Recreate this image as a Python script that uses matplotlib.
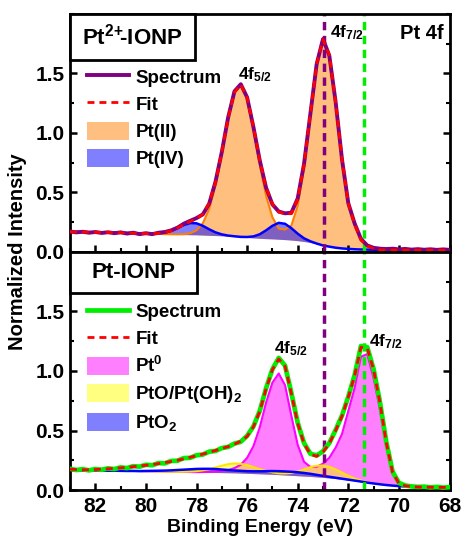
import matplotlib.pyplot as plt
import numpy as np
from matplotlib.patches import Patch, Rectangle
from matplotlib.lines import Line2D
from matplotlib.ticker import MultipleLocator

plt.rcParams['font.family'] = 'Liberation Sans'
plt.rcParams['font.weight'] = 'bold'
plt.rcParams['mathtext.fontset'] = 'custom'
plt.rcParams['mathtext.rm'] = 'Liberation Sans:bold'
plt.rcParams['mathtext.it'] = 'Liberation Sans:bold'
plt.rcParams['mathtext.bf'] = 'Liberation Sans:bold'
plt.rcParams['mathtext.default'] = 'bf'

# binding energy grid (eV), 83 -> 68
energy = [83.0, 82.75, 82.5, 82.25, 82.0, 81.75, 81.5, 81.25,
          81.0, 80.75, 80.5, 80.25, 80.0, 79.75, 79.5, 79.25,
          79.0, 78.75, 78.5, 78.25, 78.0, 77.75, 77.5, 77.25,
          77.0, 76.75, 76.5, 76.25, 76.0, 75.75, 75.5, 75.25,
          75.0, 74.75, 74.5, 74.25, 74.0, 73.75, 73.5, 73.25,
          73.0, 72.75, 72.5, 72.25, 72.0, 71.75, 71.5, 71.25,
          71.0, 70.75, 70.5, 70.25, 70.0, 69.75, 69.5, 69.25,
          69.0, 68.75, 68.5, 68.25, 68.0]

# ---- Pt2+-IONP ----
top_bg = [0.170, 0.169, 0.168, 0.167, 0.166, 0.165, 0.164, 0.163,
          0.162, 0.160, 0.158, 0.156, 0.155, 0.153, 0.152, 0.150,
          0.149, 0.147, 0.146, 0.145, 0.144, 0.142, 0.140, 0.138,
          0.136, 0.133, 0.130, 0.126, 0.122, 0.118, 0.115, 0.112,
          0.110, 0.107, 0.104, 0.100, 0.095, 0.088, 0.080, 0.068,
          0.055, 0.045, 0.036, 0.030, 0.026, 0.023, 0.021, 0.020,
          0.019, 0.018, 0.018, 0.017, 0.017, 0.017, 0.016, 0.016,
          0.016, 0.016, 0.016, 0.015, 0.015]
top_pt2 = [0, 0, 0, 0, 0, 0, 0, 0,
           0, 0, 0, 0, 0, 0, 0, 0,
           0, 0.001, 0.004, 0.013, 0.039, 0.099, 0.22, 0.42,
           0.69, 0.99, 1.21, 1.28, 1.17, 0.92, 0.62, 0.36,
           0.182, 0.09, 0.085, 0.122, 0.293, 0.62, 1.07, 1.51,
           1.73, 1.61, 1.22, 0.75, 0.38, 0.21, 0.08, 0.03,
           0.01, 0, 0, 0, 0, 0, 0, 0,
           0, 0, 0, 0, 0]
top_pt4 = [0, 0, 0, 0, 0, 0, 0, 0,
           0, 0, 0, 0, 0, 0.002, 0.005, 0.013,
           0.03, 0.054, 0.081, 0.098, 0.097, 0.078, 0.051, 0.027,
           0.012, 0.005, 0.002, 0.001, 0.004, 0.013, 0.034, 0.07,
           0.11, 0.138, 0.133, 0.10, 0.059, 0.027, 0.01, 0.003,
           0, 0, 0, 0, 0, 0, 0, 0,
           0, 0, 0, 0, 0, 0, 0, 0,
           0, 0, 0, 0, 0]
top_spec = [0.172, 0.165, 0.170, 0.162, 0.168, 0.160, 0.166, 0.158,
            0.165, 0.155, 0.162, 0.150, 0.158, 0.150, 0.162, 0.168,
            0.182, 0.205, 0.238, 0.262, 0.285, 0.316, 0.405, 0.590,
            0.84, 1.13, 1.35, 1.41, 1.30, 1.05, 0.77, 0.54,
            0.40, 0.34, 0.325, 0.33, 0.45, 0.74, 1.16, 1.58,
            1.79, 1.65, 1.26, 0.78, 0.41, 0.24, 0.11, 0.055,
            0.035, 0.028, 0.025, 0.028, 0.022, 0.026, 0.020, 0.024,
            0.019, 0.023, 0.018, 0.022, 0.018]

# ---- Pt-IONP ----
bot_bg = [0.165, 0.165, 0.164, 0.164, 0.163, 0.163, 0.162, 0.162,
          0.161, 0.160, 0.160, 0.159, 0.158, 0.157, 0.156, 0.155,
          0.154, 0.153, 0.152, 0.151, 0.150, 0.149, 0.148, 0.147,
          0.146, 0.145, 0.144, 0.142, 0.140, 0.138, 0.136, 0.134,
          0.132, 0.129, 0.126, 0.123, 0.120, 0.117, 0.114, 0.110,
          0.106, 0.101, 0.096, 0.090, 0.084, 0.077, 0.070, 0.062,
          0.055, 0.048, 0.042, 0.037, 0.033, 0.030, 0.028, 0.026,
          0.025, 0.024, 0.023, 0.022, 0.022]
bot_pt0 = [0, 0, 0, 0, 0, 0, 0, 0,
           0, 0, 0, 0, 0, 0, 0, 0,
           0, 0, 0, 0, 0, 0.002, 0.004, 0.008,
           0.013, 0.022, 0.04, 0.07, 0.13, 0.23, 0.39, 0.60,
           0.77, 0.85, 0.755, 0.50, 0.26, 0.12, 0.08, 0.085,
           0.115, 0.17, 0.26, 0.38, 0.58, 0.78, 1.05, 1.08,
           0.885, 0.63, 0.33, 0.10, 0.025, 0.005, 0, 0,
           0, 0, 0, 0, 0]
bot_pto = [0, 0, 0, 0, 0, 0, 0, 0,
           0, 0, 0, 0, 0, 0, 0, 0,
           0, 0, 0.002, 0.004, 0.008, 0.016, 0.027, 0.042,
           0.058, 0.072, 0.079, 0.078, 0.069, 0.055, 0.039, 0.026,
           0.016, 0.011, 0.013, 0.020, 0.036, 0.056, 0.078, 0.094,
           0.100, 0.094, 0.078, 0.056, 0.036, 0.020, 0.010, 0.004,
           0.002, 0, 0, 0, 0, 0, 0, 0,
           0, 0, 0, 0, 0]
bot_pto2 = [0, 0, 0, 0, 0, 0, 0, 0,
            0, 0, 0, 0, 0.002, 0.004, 0.006, 0.008,
            0.011, 0.015, 0.019, 0.023, 0.027, 0.029, 0.030, 0.029,
            0.026, 0.023, 0.020, 0.019, 0.018, 0.019, 0.021, 0.024,
            0.027, 0.029, 0.030, 0.030, 0.029, 0.026, 0.022, 0.017,
            0.013, 0.010, 0.007, 0.005, 0.003, 0.002, 0.001, 0,
            0, 0, 0, 0, 0, 0, 0, 0,
            0, 0, 0, 0, 0]
bot_fit = [0.175, 0.172, 0.170, 0.170, 0.172, 0.175, 0.178, 0.182,
           0.186, 0.191, 0.196, 0.202, 0.208, 0.214, 0.222, 0.230,
           0.240, 0.250, 0.262, 0.275, 0.288, 0.302, 0.316, 0.332,
           0.348, 0.365, 0.385, 0.410, 0.45, 0.53, 0.66, 0.85,
           1.01, 1.10, 1.04, 0.81, 0.56, 0.39, 0.30, 0.283,
           0.32, 0.39, 0.50, 0.62, 0.78, 0.96, 1.20, 1.19,
           1.01, 0.735, 0.40, 0.15, 0.055, 0.035, 0.028, 0.025,
           0.024, 0.023, 0.022, 0.022, 0.022]
bot_spec = [0.178, 0.168, 0.175, 0.165, 0.176, 0.170, 0.182, 0.176,
            0.190, 0.184, 0.200, 0.196, 0.212, 0.208, 0.226, 0.224,
            0.244, 0.246, 0.268, 0.270, 0.292, 0.298, 0.322, 0.328,
            0.352, 0.362, 0.390, 0.405, 0.455, 0.535, 0.665, 0.855,
            1.015, 1.11, 1.045, 0.815, 0.565, 0.395, 0.305, 0.29,
            0.325, 0.395, 0.505, 0.625, 0.785, 0.965, 1.21, 1.20,
            1.015, 0.74, 0.405, 0.155, 0.06, 0.038, 0.030, 0.026,
            0.028, 0.022, 0.026, 0.020, 0.024]

PT2_LINE = 72.97
PT0_LINE = 71.38

PURPLE = '#800080'
GREEN = '#00ee00'
FIT_DASH = (2.5, 1.8)
LEG_KW = dict(loc='upper left', frameon=False, fontsize=13.5, handlelength=2.25,
              handleheight=1.1, handletextpad=0.32, labelspacing=0.41, borderpad=0,
              borderaxespad=0)


def style_axes(ax):
    ax.set_xlim(83, 68)
    ax.set_ylim(0, 2.0)
    ax.xaxis.set_major_locator(MultipleLocator(2))
    ax.xaxis.set_minor_locator(MultipleLocator(1))
    ax.yaxis.set_minor_locator(MultipleLocator(0.25))
    ax.set_yticks([0.0, 0.5, 1.0, 1.5])
    ax.tick_params(which='both', direction='in', left=True, right=True, bottom=True, top=False)
    ax.tick_params(which='major', length=5, width=1.8, labelsize=15, pad=4)
    ax.tick_params(which='minor', length=3, width=1.5)
    for s in ax.spines.values():
        s.set_linewidth(2.0)


def title_box(ax, text, w, h):
    ax.add_patch(Rectangle((0, 1 - h), w, h, transform=ax.transAxes, facecolor='white',
                           edgecolor='black', lw=2.0, zorder=6, clip_on=False))
    ax.text(w / 2, 1 - h / 2, text, transform=ax.transAxes, ha='center', va='center',
            fontsize=16, fontweight='bold', zorder=7)


E = np.array(energy)

fig = plt.figure(figsize=(4.62, 5.42), dpi=100)
ax1 = fig.add_axes([70 / 462, 1 - 252 / 542, 379.5 / 462, 238 / 542])
ax2 = fig.add_axes([70 / 462, 1 - 490 / 542, 379.5 / 462, 238 / 542])

# top panel
bg = np.array(top_bg)
pt2 = bg + np.array(top_pt2)
pt4 = bg + np.array(top_pt4)
fit = bg + np.array(top_pt2) + np.array(top_pt4)
ax1.fill_between(E, bg, pt2, color='#ff8000', alpha=0.5, lw=0, zorder=1)
ax1.fill_between(E, bg, pt4, color='#0000ff', alpha=0.5, lw=0, zorder=1.1)
ax1.plot(E, pt2, color='#ff8000', lw=1.5, zorder=2)
ax1.plot(E, pt4, color='#0000ff', lw=1.8, zorder=2.1)
ax1.axvline(PT2_LINE, color=PURPLE, lw=2.5, dashes=(2.4, 1.6), zorder=2.5)
ax1.axvline(PT0_LINE, color=GREEN, lw=2.5, dashes=(2.4, 1.6), zorder=2.5)
ax1.plot(E, top_spec, color=PURPLE, lw=2.8, zorder=3)
ax1.plot(E, fit, color='red', lw=2.0, dashes=FIT_DASH, zorder=4)

style_axes(ax1)
ax1.tick_params(labelbottom=False)
title_box(ax1, r'Pt$^{2\!+}\!\!$-IONP', 125 / 379.5, 46 / 238)
ax1.text(76.36, 1.45, '4f$_{5/2}$', fontsize=12.5, fontweight='bold', ha='left', va='baseline')
ax1.text(72.72, 1.80, '4f$_{7/2}$', fontsize=12.5, fontweight='bold', ha='left', va='baseline')
ax1.text(0.985, 1.79 / 2.0, 'Pt 4f', transform=ax1.transAxes, fontsize=14.5, fontweight='bold',
         ha='right', va='baseline')

h1 = [Line2D([], [], color=PURPLE, lw=2.8),
      Line2D([], [], color='red', lw=2.0, dashes=FIT_DASH),
      Patch(facecolor='#ffbf80', edgecolor='none'),
      Patch(facecolor='#8080ff', edgecolor='none')]
ax1.legend(h1, ['Spectrum', 'Fit', 'Pt(II)', 'Pt(IV)'], bbox_to_anchor=(0.045, 0.775), **LEG_KW)

# bottom panel
bg = np.array(bot_bg)
ax2.fill_between(E, bg, bg + np.array(bot_pt0), color='#ff00ff', alpha=0.5, lw=0, zorder=1)
ax2.fill_between(E, bg, bg + np.array(bot_pto), color='#ffff00', alpha=0.5, lw=0, zorder=1.1)
ax2.fill_between(E, bg, bg + np.array(bot_pto2), color='#0000ff', alpha=0.5, lw=0, zorder=1.2)
ax2.plot(E, bg + np.array(bot_pt0), color='#ff00ff', lw=1.5, zorder=2)
ax2.plot(E, bg + np.array(bot_pto), color='#ffe600', lw=1.5, zorder=2.1)
ax2.plot(E, bg + np.array(bot_pto2), color='#0000ff', lw=1.8, zorder=2.2)
ax2.axvline(PT2_LINE, color=PURPLE, lw=2.5, dashes=(2.4, 1.6), zorder=2.5)
ax2.axvline(PT0_LINE, color=GREEN, lw=2.5, dashes=(2.4, 1.6), zorder=2.5)
ax2.plot(E, bot_spec, color=GREEN, lw=3.4, zorder=3)
ax2.plot(E, bot_fit, color='red', lw=2.0, dashes=FIT_DASH, zorder=4)

style_axes(ax2)
ax2.set_xticks([82, 80, 78, 76, 74, 72, 70, 68])
ax2.tick_params(axis='x', which='major', pad=5)
ax2.set_xlabel('Binding Energy (eV)', fontsize=14, fontweight='bold', labelpad=2)
title_box(ax2, 'Pt-IONP', 127 / 379.5, 41 / 238)
ax2.text(74.94, 1.15, '4f$_{5/2}$', fontsize=12.5, fontweight='bold', ha='left', va='baseline')
ax2.text(71.18, 1.21, '4f$_{7/2}$', fontsize=12.5, fontweight='bold', ha='left', va='baseline')

h2 = [Line2D([], [], color=GREEN, lw=3.4),
      Line2D([], [], color='red', lw=2.0, dashes=FIT_DASH),
      Patch(facecolor='#ff80ff', edgecolor='none'),
      Patch(facecolor='#ffff80', edgecolor='none'),
      Patch(facecolor='#8080ff', edgecolor='none')]
ax2.legend(h2, ['Spectrum', 'Fit', 'Pt$^0$', 'PtO/Pt(OH)$_2$', 'PtO$_2$'],
           bbox_to_anchor=(0.045, 0.79), **LEG_KW)

fig.text(18 / 462, 1 - 252 / 542, 'Normalized Intensity', rotation=90, ha='center', va='center',
         fontsize=14.5, fontweight='bold')

fig.savefig('out.png', dpi=100)
